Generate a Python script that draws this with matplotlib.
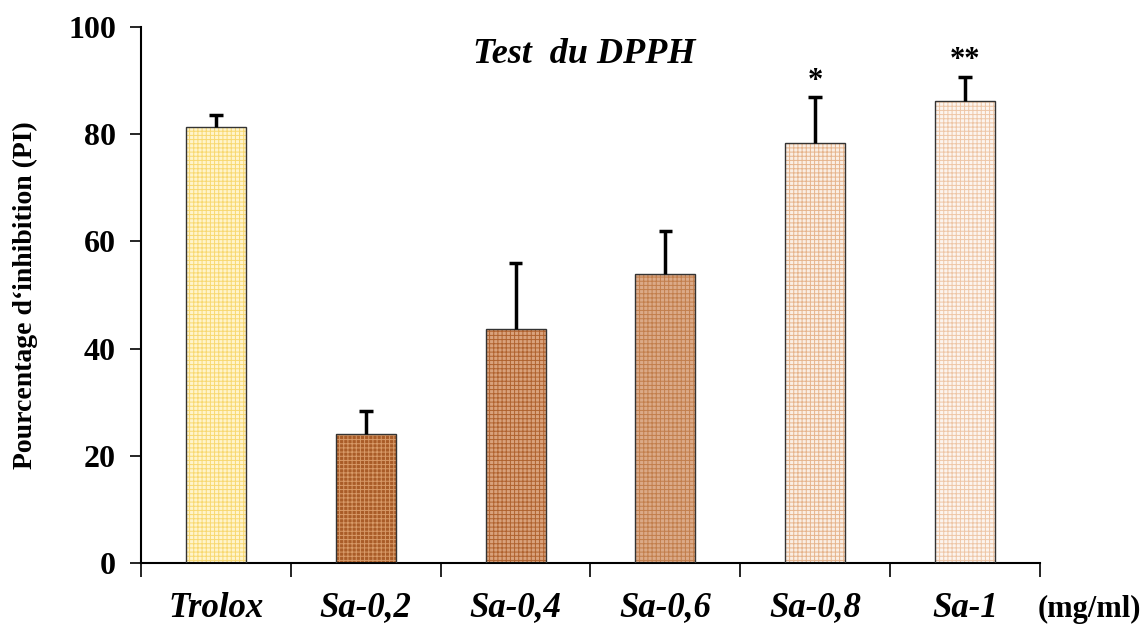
import numpy as np
import matplotlib.pyplot as plt

categories = ['Trolox', 'Sa-0,2', 'Sa-0,4', 'Sa-0,6', 'Sa-0,8', 'Sa-1']
pi_mean = [81.3, 24.1, 43.7, 53.9, 78.4, 86.2]
pi_err = [2.3, 4.3, 12.3, 8.0, 8.5, 4.5]
signif = ['', '', '', '', '*', '**']

face_colors = ['#fff4cc', '#a95c28', '#d9a27c', '#dbaa88', '#faeee4', '#fcf4ee']
hatch_colors = ['#f8d870', '#d89a68', '#b0622e', '#c27e4c', '#e6b48c', '#eec6a6']

plt.rcParams['font.family'] = ['Liberation Serif', 'DejaVu Serif']
plt.rcParams['hatch.linewidth'] = 0.7

fig = plt.figure(figsize=(11.44, 6.26), dpi=100)
ax = fig.add_axes([0.1233, 0.1006, 0.7857, 0.8563])

x = np.arange(len(categories))
w = 0.4
top = np.array(pi_mean) + np.array(pi_err)

# hatched fill first, then a plain black outline on top
for i in range(len(categories)):
    ax.bar(x[i], pi_mean[i], w, color=face_colors[i], edgecolor=hatch_colors[i],
           hatch='++++', linewidth=0, zorder=2)
ax.bar(x, pi_mean, w, fill=False, edgecolor='#333333', linewidth=1.0, zorder=3)

# upper error bars only, cap at the top
ax.vlines(x, pi_mean, top, colors='black', linewidth=2.5, zorder=4)
ax.hlines(top, x - 0.045, x + 0.045, colors='black', linewidth=2.5, zorder=4)

for i, s in enumerate(signif):
    if s:
        ax.text(x[i], top[i] + 0.3, s, ha='center', va='bottom',
                fontsize=22, fontweight='bold')

ax.set_xlim(-0.5, len(categories) - 0.5)
ax.set_ylim(0, 100)
ax.set_yticks([0, 20, 40, 60, 80, 100])
ax.set_xticks(np.arange(-0.5, len(categories), 1.0))
ax.set_xticklabels([])
ax.tick_params(axis='y', direction='out', length=8, width=1.2, labelsize=23, pad=10)
ax.tick_params(axis='x', direction='out', length=10, width=1.2)
for lab in ax.get_yticklabels():
    lab.set_fontweight('bold')

for i, c in enumerate(categories):
    ax.text(x[i], -8.4, c, ha='center', va='center', fontsize=25,
            fontweight='bold', fontstyle='italic')
ax.text(len(categories) - 0.5 + 0.33, -8.6, '(mg/ml)', ha='center', va='center',
        fontsize=22, fontweight='bold', clip_on=False)

ax.spines['top'].set_visible(False)
ax.spines['right'].set_visible(False)
ax.spines['left'].set_linewidth(1.5)
ax.spines['bottom'].set_linewidth(1.5)

ax.set_ylabel("Pourcentage d\u2018inhibition (PI)", fontsize=20, fontweight='bold', labelpad=22)
ax.text(2.46, 94.8, 'Test  du DPPH', ha='center', va='center', fontsize=26,
        fontweight='bold', fontstyle='italic')

fig.savefig('out.png', dpi=100)
